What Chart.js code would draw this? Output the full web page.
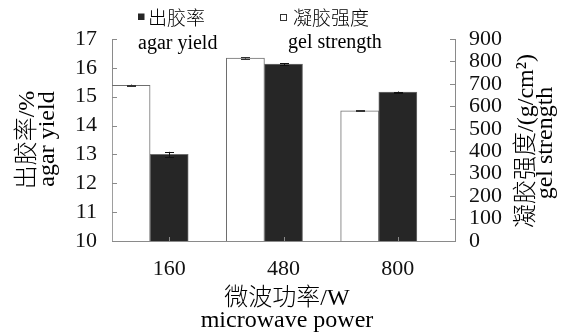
<!DOCTYPE html>
<html>
<head>
<meta charset="utf-8">
<script src="https://cdn.jsdelivr.net/npm/chart.js@4.4.1/dist/chart.umd.min.js"></script>
<style>
  html, body { margin: 0; padding: 0; background: #fff; }
  #wrap { width: 571px; height: 333px; }
</style>
</head>
<body>
<div id="wrap"><canvas id="c" width="571" height="333"></canvas></div>
<script>
// Microwave power levels (W)
const powers = ['160', '480', '800'];
// Agar yield (%), left axis
const agarYield = [13.0, 16.13, 15.16];
const agarYieldErr = [0.09, 0.03, 0.02];
// Gel strength (g/cm²), right axis
const gelStrength = [694, 815, 580];
const gelStrengthErr = [3, 3, 3];
// Axis tick values
const yieldTicks = [10, 11, 12, 13, 14, 15, 16, 17];
const strengthTicks = [0, 100, 200, 300, 400, 500, 600, 700, 800, 900];

const SERIF = '"Liberation Serif", "Times New Roman", serif';
const MIXED = '"Liberation Serif", "Noto Sans CJK SC", serif';
const AXIS_GREY = '#8a8a8a';
const BAR_DARK = '#262626';

// Inward tick marks on all three axes
const innerTicks = {
  id: 'innerTicks',
  afterDatasetsDraw(chart) {
    const { ctx, scales } = chart;
    ctx.save();
    ctx.strokeStyle = AXIS_GREY;
    ctx.lineWidth = 1;
    ctx.beginPath();
    const yl = scales.yL, yr = scales.yR, x = scales.x;
    yieldTicks.forEach(v => {
      const py = Math.round(yl.getPixelForValue(v)) + 0.5;
      ctx.moveTo(yl.right, py); ctx.lineTo(yl.right + 5, py);
    });
    strengthTicks.forEach(v => {
      const py = Math.round(yr.getPixelForValue(v)) + 0.5;
      ctx.moveTo(yr.left, py); ctx.lineTo(yr.left - 5, py);
    });
    powers.forEach((p, i) => {
      const px = Math.round(x.getPixelForValue(i)) + 0.5;
      ctx.moveTo(px, x.top); ctx.lineTo(px, x.top - 4);
    });
    ctx.stroke();
    ctx.restore();
  }
};

// Error bars with caps
const errorBars = {
  id: 'errorBars',
  afterDatasetsDraw(chart) {
    const { ctx } = chart;
    ctx.save();
    ctx.lineWidth = 1;
    chart.data.datasets.forEach((ds, di) => {
      if (!ds.errors) return;
      const meta = chart.getDatasetMeta(di);
      const scale = chart.scales[ds.yAxisID];
      meta.data.forEach((bar, i) => {
        const v = ds.data[i];
        if (v == null) return;
        const e = ds.errors[i];
        const cx = Math.round(bar.x) + 0.5;
        const top = scale.getPixelForValue(v + e);
        const bot = scale.getPixelForValue(v - e);
        ctx.strokeStyle = ds.errColor;
        ctx.beginPath();
        ctx.moveTo(cx, top); ctx.lineTo(cx, bot);
        ctx.moveTo(cx - 4.5, Math.round(top) + 0.5); ctx.lineTo(cx + 4.5, Math.round(top) + 0.5);
        ctx.moveTo(cx - 4.5, Math.round(bot) + 0.5); ctx.lineTo(cx + 4.5, Math.round(bot) + 0.5);
        ctx.stroke();
      });
    });
    ctx.restore();
  }
};

// Axis titles and the two-line legend
const annotations = {
  id: 'annotations',
  afterDraw(chart) {
    const { ctx } = chart;
    ctx.save();
    ctx.fillStyle = '#000';

    // text rotated to read bottom-to-top; baseline sits at screen x = bx
    const vertical = (text, bx, cy) => {
      ctx.save();
      ctx.translate(bx, cy);
      ctx.rotate(-Math.PI / 2);
      ctx.textAlign = 'center';
      ctx.textBaseline = 'alphabetic';
      ctx.fillText(text, 0, 0);
      ctx.restore();
    };

    const titleFont = '300 24px ' + MIXED;
    ctx.font = titleFont;

    // Left axis title
    vertical('出胶率/%', 34, 140);
    vertical('agar yield', 54, 139);

    // Right axis title
    vertical('凝胶强度/(g/cm²)', 533, 141);
    vertical('gel strength', 552, 143);

    // Bottom axis title
    const cxBottom = 287;
    ctx.textAlign = 'center';
    ctx.textBaseline = 'alphabetic';
    ctx.fillText('微波功率/W', cxBottom, 305);
    ctx.fillText('microwave power', cxBottom, 327);

    // Legend
    ctx.textAlign = 'left';
    ctx.fillStyle = BAR_DARK;
    ctx.fillRect(138, 13.5, 6.5, 6.5);
    ctx.fillStyle = '#fff';
    ctx.strokeStyle = '#333';
    ctx.lineWidth = 1;
    ctx.fillRect(280.5, 14.5, 6, 6);
    ctx.strokeRect(280.5, 14.5, 6, 6);

    ctx.fillStyle = '#000';
    ctx.font = '300 19px ' + MIXED;
    ctx.textBaseline = 'middle';
    ctx.fillText('出胶率', 148, 20);
    ctx.fillText('凝胶强度', 293, 20);
    ctx.font = '20px ' + SERIF;
    ctx.textBaseline = 'alphabetic';
    ctx.fillText('agar yield', 138, 48.5);
    ctx.fillText('gel strength', 288, 47.5);
    ctx.restore();
  }
};

const tickFont = { family: SERIF, size: 22 };

new Chart(document.getElementById('c'), {
  type: 'bar',
  data: {
    labels: powers,
    datasets: [
      {
        label: '凝胶强度 gel strength',
        data: gelStrength,
        errors: gelStrengthErr,
        errColor: '#333',
        yAxisID: 'yR',
        backgroundColor: '#ffffff',
        borderColor: '#6e6e6e',
        borderWidth: 1
      },
      {
        label: '出胶率 agar yield',
        data: agarYield,
        errors: agarYieldErr,
        errColor: '#111',
        yAxisID: 'yL',
        backgroundColor: BAR_DARK,
        borderColor: '#6e6e6e',
        borderWidth: 1
      },
      {
        // empty slot that keeps the pair left of each category centre
        label: '',
        data: [null, null, null],
        yAxisID: 'yL',
        backgroundColor: 'rgba(0,0,0,0)',
        borderWidth: 0
      }
    ]
  },
  options: {
    responsive: false,
    devicePixelRatio: 1,
    animation: false,
    layout: { padding: { top: 39, left: 0, right: 0, bottom: 0 } },
    plugins: { legend: { display: false }, tooltip: { enabled: false } },
    datasets: { bar: { categoryPercentage: 1.0, barPercentage: 1.0 } },
    scales: {
      x: {
        offset: true,
        grid: { display: false, drawTicks: false },
        border: { color: AXIS_GREY, width: 1 },
        ticks: { font: tickFont, color: '#111', padding: 15 },
        afterFit: s => { s.height = 92; }
      },
      yL: {
        position: 'left',
        min: yieldTicks[0],
        max: yieldTicks[yieldTicks.length - 1],
        grid: { display: false, drawTicks: false },
        border: { color: AXIS_GREY, width: 1 },
        ticks: { font: tickFont, color: '#111', padding: 15, autoSkip: false },
        afterBuildTicks: s => { s.ticks = yieldTicks.map(v => ({ value: v })); },
        afterFit: s => { s.width = 112; }
      },
      yR: {
        position: 'right',
        min: strengthTicks[0],
        max: strengthTicks[strengthTicks.length - 1],
        grid: { display: false, drawTicks: false },
        border: { color: AXIS_GREY, width: 1 },
        ticks: { font: tickFont, color: '#111', padding: 14, autoSkip: false },
        afterBuildTicks: s => { s.ticks = strengthTicks.map(v => ({ value: v })); },
        afterFit: s => { s.width = 116; }
      }
    }
  },
  plugins: [innerTicks, errorBars, annotations]
});
</script>
</body>
</html>
